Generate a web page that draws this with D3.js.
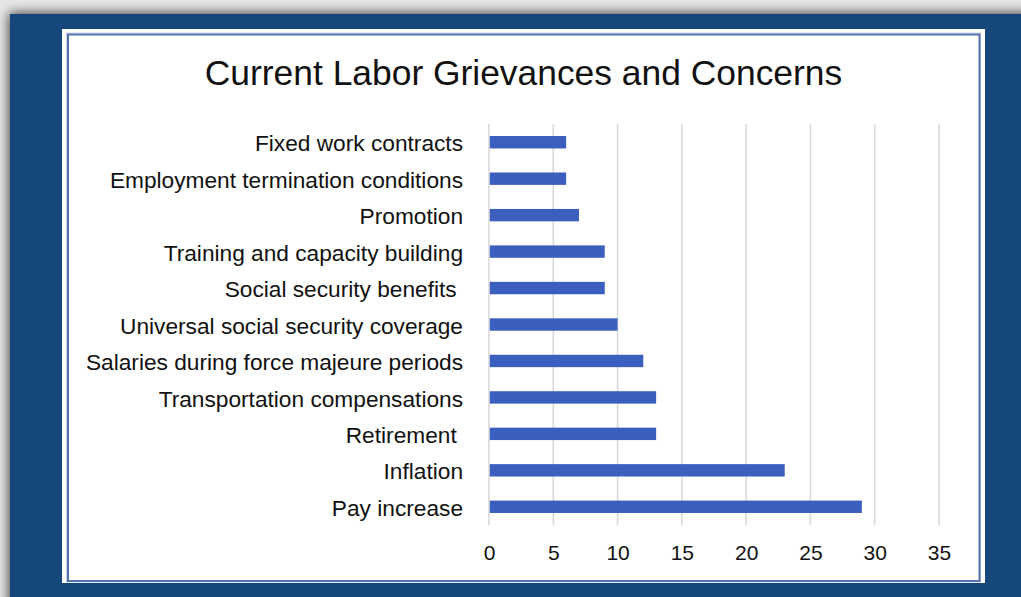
<!DOCTYPE html>
<html>
<head>
<meta charset="utf-8">
<script src="https://cdn.jsdelivr.net/npm/d3@7"></script>
<style>
  html, body { margin: 0; padding: 0; background: #e4e4e4; }
  svg { display: block; }
  text { font-family: "Liberation Sans", Arial, Helvetica, sans-serif; fill: #111; }
</style>
</head>
<body>
<svg id="chart" width="1021" height="597"></svg>
<script>
// Grievance categories, top to bottom, and number of mentions for each
const categories = [
  "Fixed work contracts",
  "Employment termination conditions",
  "Promotion",
  "Training and capacity building",
  "Social security benefits ",
  "Universal social security coverage",
  "Salaries during force majeure periods",
  "Transportation compensations",
  "Retirement ",
  "Inflation",
  "Pay increase"
];
const counts = [6, 6, 7, 9, 9, 10, 12, 13, 13, 23, 29];
const tickValues = [0, 5, 10, 15, 20, 25, 30, 35];
const title = "Current Labor Grievances and Concerns";

const svg = d3.select("#chart");
const W = 1021, H = 597;

// soft shadow behind the blue frame
const defs = svg.append("defs");
const shadow = defs.append("filter").attr("id", "frameShadow")
  .attr("x", "-5%").attr("y", "-5%").attr("width", "110%").attr("height", "110%");
shadow.append("feGaussianBlur").attr("in", "SourceAlpha").attr("stdDeviation", 6).attr("result", "blur");
shadow.append("feOffset").attr("in", "blur").attr("dx", -1).attr("dy", -1).attr("result", "off");
shadow.append("feComponentTransfer").attr("in", "off").attr("result", "soft")
  .append("feFuncA").attr("type", "linear").attr("slope", 0.75);
const merge = shadow.append("feMerge");
merge.append("feMergeNode").attr("in", "soft");
merge.append("feMergeNode").attr("in", "SourceGraphic");

// page background
svg.append("rect").attr("width", W).attr("height", H).attr("fill", "#e6e6e6");

// blue frame
svg.append("rect")
  .attr("x", 10).attr("y", 14).attr("width", W - 10 + 20).attr("height", H - 14 + 20)
  .attr("fill", "#17467a")
  .attr("filter", "url(#frameShadow)");

// white chart panel
svg.append("rect")
  .attr("x", 62).attr("y", 29).attr("width", 923).attr("height", 554)
  .attr("fill", "#ffffff");

// thin border around the plot area
svg.append("rect")
  .attr("x", 66.5).attr("y", 33).attr("width", 914).attr("height", 549)
  .attr("fill", "none").attr("stroke", "#c9d4e8").attr("stroke-width", 1);
svg.append("rect")
  .attr("x", 68).attr("y", 34.5).attr("width", 911.5).attr("height", 546.5)
  .attr("fill", "none").attr("stroke", "#5573ad").attr("stroke-width", 2);

// title
svg.append("text")
  .attr("x", 523.5).attr("y", 85)
  .attr("text-anchor", "middle")
  .style("font-size", "35.4px")
  .text(title);

// scales
const x = d3.scaleLinear().domain([0, 35]).range([489, 939]);
const y = d3.scaleBand().domain(categories).range([124, 525])
  .paddingInner(0.66).paddingOuter(0.33);

// vertical gridlines
svg.append("g").selectAll("line")
  .data(tickValues)
  .join("line")
  .attr("x1", d => x(d)).attr("x2", d => x(d))
  .attr("y1", 124).attr("y2", 525)
  .attr("stroke", "#d9d9d9").attr("stroke-width", 1.6);

// bars
svg.append("g").selectAll("rect")
  .data(categories)
  .join("rect")
  .attr("x", x(0) + 0.8)
  .attr("y", d => y(d))
  .attr("width", (d, i) => x(counts[i]) - x(0) - 0.8)
  .attr("height", y.bandwidth())
  .attr("fill", "#3a5fbf");

// x axis tick labels
const xAxis = d3.axisBottom(x).tickValues(tickValues).tickSize(0).tickPadding(0);
const gx = svg.append("g").attr("transform", "translate(0,545)").call(xAxis);
gx.select(".domain").remove();
gx.selectAll("text")
  .attr("y", 15).attr("dy", 0)
  .style("font-size", "21px")
  .style("font-family", "'Liberation Sans', Arial, sans-serif")
  .attr("fill", "#111");

// category labels
const yAxis = d3.axisLeft(y).tickSize(0).tickPadding(0);
const gy = svg.append("g").attr("transform", "translate(463,0)").call(yAxis);
gy.select(".domain").remove();
gy.selectAll("text")
  .attr("dy", "0.4em")
  .style("font-size", "22.7px")
  .style("white-space", "pre")
  .style("font-family", "'Liberation Sans', Arial, sans-serif")
  .attr("fill", "#111");
</script>
</body>
</html>
